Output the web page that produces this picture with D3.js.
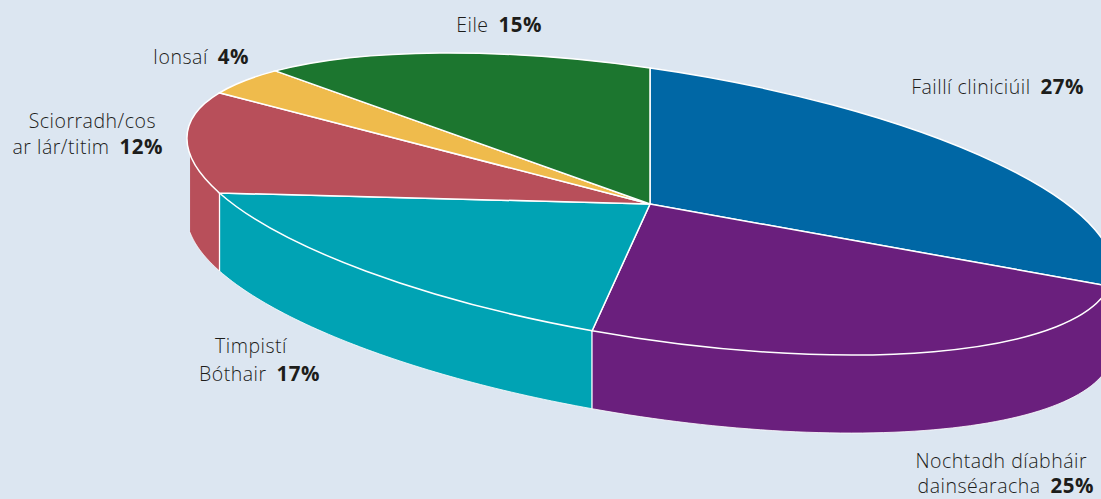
<!DOCTYPE html>
<html><head><meta charset="utf-8">
<script src="https://cdn.jsdelivr.net/npm/d3@7"></script>
<style>
html,body{margin:0;padding:0;background:#dce6f1;overflow:hidden}
svg{display:block}
text{font-family:"Open Sans",sans-serif;font-size:19.5px;letter-spacing:.5px;fill:#1d1d1b;font-weight:300}
.pct{font-weight:700;font-size:20.5px}
</style></head><body>
<svg id="c" width="1101" height="499"></svg>
<script>
const categories=["Faillí cliniciúil","Nochtadh díabháir dainséaracha","Timpistí Bóthair","Sciorradh/cos ar lár/titim","Ionsaí","Eile"];
const values=[27,25,17,12,4,15];
const colors=["#0067a5","#6a1f7d","#00a3b4","#b84f5a","#efbb4c","#1c762f"];
const labelLines=[["Faillí cliniciúil"],["Nochtadh díabháir","dainséaracha"],["Timpistí","Bóthair"],["Sciorradh/cos","ar lár/titim"],["Ionsaí"],["Eile"]];
const labelAnchors=[[1084,94],[1094,493],[320,381],[163,154],[249,64],[542,32]];
const lineGap=[0,25.5,28,26,0,0];
const lineEnds=[[0],[-7,0],[-33,0],[-7,0],[0],[0]];

const svg=d3.select("#c");
const cx=650,cy=204,depth=78;
// projection of the tilted disc: unit circle -> rotated ellipse
const bx=463,by=65.7,ay=136;
const project=(t,d=0)=>[cx+bx*Math.sin(t),cy+by*Math.sin(t)-ay*Math.cos(t)+d];
const pie=d3.pie().sort(null).value(d=>d.v).startAngle(0).endAngle(2*Math.PI);
const arcs=pie(values.map((v,i)=>({v,i})));
const line=d3.line();
const g=svg.append("g");
// side walls
const visA=Math.PI/2,visB=Math.PI*1.5-0.115;
arcs.forEach(a=>{
  const t0=Math.max(a.startAngle,visA),t1=Math.min(a.endAngle,visB);
  if(t1<=t0)return;
  const ts=d3.range(0,61).map(k=>t0+(t1-t0)*k/60);
  const top=ts.map(t=>project(t));
  const bot=ts.map(t=>project(t,depth)).reverse();
  g.append("path").attr("d",line(top.concat(bot))+"Z").attr("fill",colors[a.data.i]).attr("stroke","none");
  g.append("path").attr("d",line(bot)).attr("fill","none").attr("stroke","#fff").attr("stroke-width",0.8);
  if(a.startAngle>=visA){
    g.append("path").attr("d",line([project(t0),project(t0,depth)])).attr("stroke","#fff").attr("stroke-width",1.3);
  }
});
// top face
const arcGen=d3.arc().innerRadius(0).outerRadius(1);
g.append("g").attr("transform",`matrix(${bx},${by},0,${ay},${cx},${cy})`)
 .selectAll("path").data(arcs).join("path")
 .attr("d",arcGen).attr("fill",d=>colors[d.data.i])
 .attr("stroke","#fff").attr("stroke-width",1.5).attr("vector-effect","non-scaling-stroke");
// labels
labelLines.forEach((ls,i)=>{
  const [x,y]=labelAnchors[i];
  ls.forEach((s,j)=>{
    const last=j===ls.length-1;
    const yy=y-(ls.length-1-j)*lineGap[i];
    const t=svg.append("text").attr("x",x+lineEnds[i][j]).attr("y",yy).attr("text-anchor","end");
    t.append("tspan").text(s);
    if(last) t.append("tspan").attr("class","pct").attr("dx",10).text(values[i]+"%");
  });
});
</script></body></html>
